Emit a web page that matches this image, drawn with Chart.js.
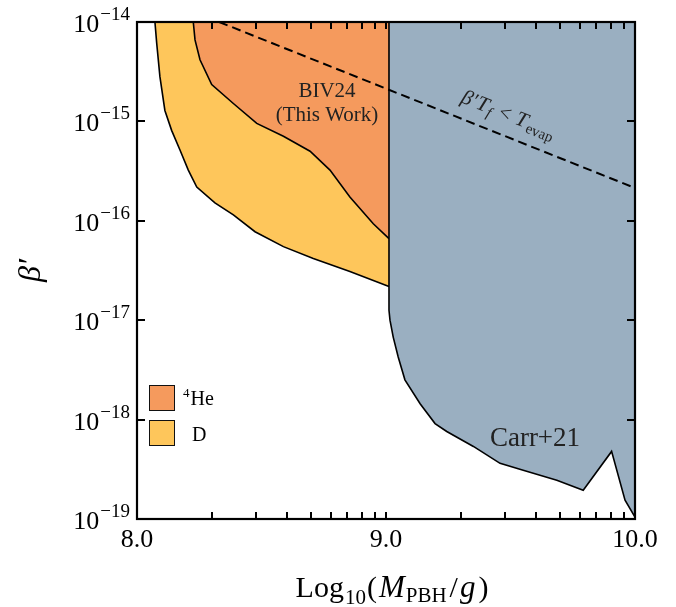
<!DOCTYPE html>
<html>
<head>
<meta charset="utf-8">
<script src="https://cdn.jsdelivr.net/npm/chart.js@4.4.0/dist/chart.umd.min.js"></script>
<style>
  html, body { margin: 0; padding: 0; background: #fff; }
</style>
</head>
<body>
<canvas id="chart" width="676" height="607"></canvas>
<script>
// values, as log10(M/g) and log10(beta')
const heLogM    = [8.226, 8.233, 8.253, 8.300, 8.387, 8.481, 8.588, 8.695, 8.775, 8.855, 8.949, 9.012];
const heLogBeta = [-14.00, -14.18, -14.38, -14.63, -14.82, -15.02, -15.15, -15.30, -15.49, -15.76, -16.03, -16.18];

const dLogM    = [8.072, 8.079, 8.092, 8.112, 8.139, 8.173, 8.206, 8.240, 8.313, 8.387, 8.474, 8.588, 8.708, 8.855, 9.012];
const dLogBeta = [-14.00, -14.21, -14.55, -14.89, -15.09, -15.29, -15.49, -15.66, -15.82, -15.94, -16.11, -16.26, -16.38, -16.51, -16.66];

const carrLogM    = [9.012, 9.012, 9.016, 9.029, 9.049, 9.076, 9.137, 9.197, 9.244, 9.351, 9.458, 9.551, 9.686, 9.792, 9.906, 9.960, 10.0];
const carrLogBeta = [-14.00, -16.90, -17.00, -17.17, -17.37, -17.60, -17.84, -18.04, -18.12, -18.27, -18.44, -18.51, -18.61, -18.71, -18.32, -18.81, -18.98];

// beta' T_f < T_evap bound
const evapLogM    = [8.33, 10.0];
const evapLogBeta = [-14.00, -15.67];

// axis ticks
const xTickExps   = [8, 9, 10];
const xTickLabels = ['8.0', '9.0', '10.0'];
const xMinorMult  = [2, 3, 4, 5, 6, 7, 8, 9];
const yTickExps   = [-14, -15, -16, -17, -18, -19];

const colors = {
    he: '#f59a5d',
    d: '#fec65b',
    carr: '#9aafc1'
};

const SERIF = '"Liberation Serif", "DejaVu Serif", serif';

function toPoints(logM, logB) {
    return logM.map((m, i) => ({ x: Math.pow(10, m), y: Math.pow(10, logB[i]) }));
}

// draws a run of text pieces with their own font and baseline shift
function drawPieces(ctx, pieces, x, y) {
    let cx = x;
    pieces.forEach(p => {
        ctx.font = p.font;
        ctx.fillText(p.t, cx, y + (p.dy || 0));
        cx += ctx.measureText(p.t).width + (p.pad || 0);
    });
    return cx - x;
}

function piecesWidth(ctx, pieces) {
    let w = 0;
    pieces.forEach(p => {
        ctx.font = p.font;
        w += ctx.measureText(p.t).width + (p.pad || 0);
    });
    return w;
}

const framePlugin = {
    id: 'frame',
    afterDraw(chart) {
        const { ctx, chartArea: a, scales: { x, y } } = chart;
        ctx.save();
        ctx.strokeStyle = '#000';
        ctx.fillStyle = '#000';

        // ticks, pointing inward on all four sides
        ctx.lineWidth = 2;
        ctx.beginPath();
        xTickExps.forEach((e, i) => {
            const mults = i < xTickExps.length - 1 ? [1].concat(xMinorMult) : [1];
            mults.forEach(m => {
                const px = Math.round(x.getPixelForValue(m * Math.pow(10, e)));
                ctx.moveTo(px, a.bottom); ctx.lineTo(px, a.bottom - 7);
                ctx.moveTo(px, a.top); ctx.lineTo(px, a.top + 7);
            });
        });
        yTickExps.forEach(e => {
            const py = Math.round(y.getPixelForValue(Math.pow(10, e)));
            ctx.moveTo(a.left, py); ctx.lineTo(a.left + 8, py);
            ctx.moveTo(a.right, py); ctx.lineTo(a.right - 8, py);
        });
        ctx.stroke();

        // frame
        ctx.lineWidth = 2.2;
        ctx.strokeRect(a.left, a.top, a.right - a.left, a.bottom - a.top);

        // x tick labels
        ctx.textAlign = 'center';
        ctx.textBaseline = 'alphabetic';
        ctx.font = '26px ' + SERIF;
        xTickExps.forEach((e, i) => {
            const px = x.getPixelForValue(Math.pow(10, e));
            ctx.fillText(xTickLabels[i], px, a.bottom + 28);
        });

        // y tick labels 10^n
        ctx.textAlign = 'left';
        yTickExps.forEach(e => {
            const py = y.getPixelForValue(Math.pow(10, e));
            const pieces = [
                { t: '10', font: '26px ' + SERIF, pad: 1 },
                { t: '\u2212' + Math.abs(e), font: '19px ' + SERIF, dy: -12 }
            ];
            const w = piecesWidth(ctx, pieces);
            drawPieces(ctx, pieces, a.left - 7 - w, py + 10);
        });

        // x axis title
        const xt = [
            { t: 'Log', font: '30px ' + SERIF, pad: 1 },
            { t: '10', font: '21px ' + SERIF, dy: 7, pad: 1 },
            { t: '(', font: '30px ' + SERIF, pad: 2 },
            { t: 'M', font: 'italic 31px ' + SERIF, pad: 1 },
            { t: 'PBH', font: '21px ' + SERIF, dy: 5, pad: 3 },
            { t: '/', font: '30px ' + SERIF, pad: 2 },
            { t: 'g', font: 'italic 31px ' + SERIF, pad: 3 },
            { t: ')', font: '30px ' + SERIF }
        ];
        const xtw = piecesWidth(ctx, xt);
        drawPieces(ctx, xt, (a.left + a.right) / 2 + 6 - xtw / 2, a.bottom + 78);

        // y axis title
        ctx.save();
        ctx.translate(30, (a.top + a.bottom) / 2);
        ctx.rotate(-Math.PI / 2);
        ctx.textAlign = 'center';
        ctx.font = 'italic 32px ' + SERIF;
        ctx.fillText('\u03b2\u2032', 0, 10);
        ctx.restore();

        ctx.restore();
    }
};

const labelsPlugin = {
    id: 'labels',
    afterDatasetsDraw(chart) {
        const { ctx, scales: { x, y } } = chart;
        ctx.save();
        ctx.fillStyle = '#222';
        ctx.textAlign = 'center';
        ctx.textBaseline = 'alphabetic';

        ctx.font = '21px ' + SERIF;
        ctx.fillText('BIV24', 327, 97);
        ctx.fillText('(This Work)', 327, 121);

        ctx.font = '27px ' + SERIF;
        ctx.fillText('Carr+21', 535, 446);

        // bound label along the dashed line
        const x0 = x.getPixelForValue(Math.pow(10, evapLogM[0]));
        const y0 = y.getPixelForValue(Math.pow(10, evapLogBeta[0]));
        const x1 = x.getPixelForValue(Math.pow(10, evapLogM[1]));
        const y1 = y.getPixelForValue(Math.pow(10, evapLogBeta[1]));
        const ang = Math.atan2(y1 - y0, x1 - x0);
        ctx.textAlign = 'left';
        ctx.translate(460, 102);
        ctx.rotate(ang);
        drawPieces(ctx, [
            { t: '\u03b2\u2032', font: 'italic 21px ' + SERIF, pad: 1 },
            { t: 'T', font: 'italic 21px ' + SERIF, pad: 1 },
            { t: 'f', font: 'italic 15px ' + SERIF, dy: 4, pad: 2 },
            { t: ' < ', font: '21px ' + SERIF, pad: 1 },
            { t: 'T', font: 'italic 21px ' + SERIF, pad: 1 },
            { t: 'evap', font: '15px ' + SERIF, dy: 4 }
        ], 0, 0);
        ctx.restore();

        // legend
        ctx.save();
        ctx.strokeStyle = '#111';
        ctx.lineWidth = 1;
        [[colors.he, 385.5], [colors.d, 420.5]].forEach(([c, top]) => {
            ctx.fillStyle = c;
            ctx.fillRect(149.5, top, 25, 25);
            ctx.strokeRect(149.5, top, 25, 25);
        });
        ctx.fillStyle = '#000';
        ctx.textAlign = 'left';
        drawPieces(ctx, [
            { t: '4', font: '13px ' + SERIF, dy: -8, pad: 1 },
            { t: 'He', font: '20px ' + SERIF }
        ], 183, 405);
        ctx.font = '20px ' + SERIF;
        ctx.fillText('D', 192, 441);
        ctx.restore();
    }
};

const regionLine = {
    borderColor: '#000',
    borderWidth: 1.6,
    pointRadius: 0,
    tension: 0,
    fill: 'end'
};

new Chart(document.getElementById('chart'), {
    type: 'line',
    data: {
        datasets: [
            {
                label: 'bound',
                data: toPoints(evapLogM, evapLogBeta),
                borderColor: '#000',
                borderWidth: 2,
                borderDash: [9, 5],
                pointRadius: 0,
                fill: false,
                order: 0
            },
            Object.assign({}, regionLine, {
                label: 'Carr+21',
                data: toPoints(carrLogM, carrLogBeta),
                backgroundColor: colors.carr,
                order: 1
            }),
            Object.assign({}, regionLine, {
                label: '4He',
                data: toPoints(heLogM, heLogBeta),
                backgroundColor: colors.he,
                order: 2
            }),
            Object.assign({}, regionLine, {
                label: 'D',
                data: toPoints(dLogM, dLogBeta),
                backgroundColor: colors.d,
                order: 3
            })
        ]
    },
    options: {
        responsive: false,
        animation: false,
        devicePixelRatio: 1,
        layout: { padding: { left: 137, top: 22, right: 41, bottom: 88 } },
        plugins: {
            legend: { display: false },
            tooltip: { enabled: false }
        },
        scales: {
            x: { type: 'logarithmic', min: 1e8, max: 1e10, display: false },
            y: { type: 'logarithmic', min: 1e-19, max: 1e-14, display: false }
        }
    },
    plugins: [labelsPlugin, framePlugin]
});
</script>
</body>
</html>
